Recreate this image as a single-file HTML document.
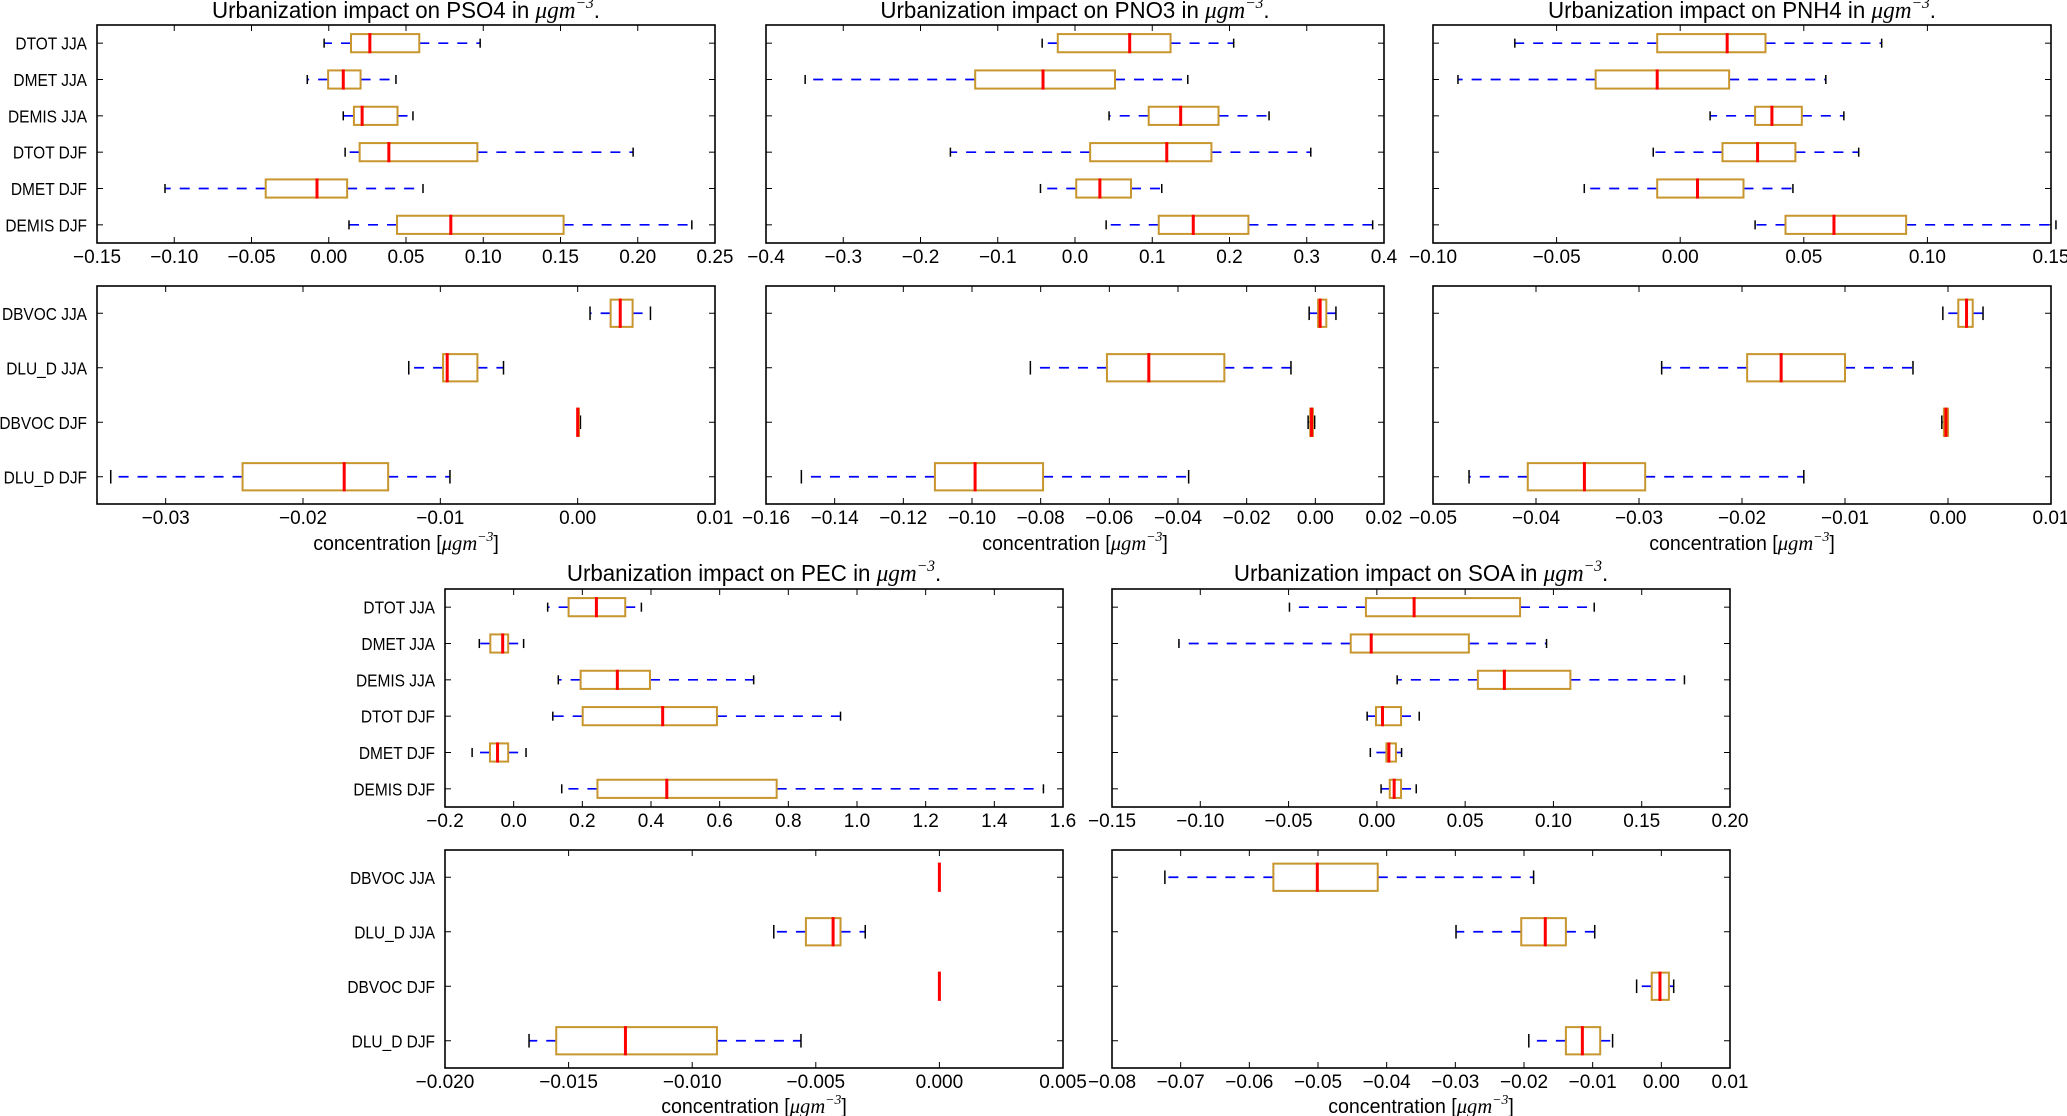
<!DOCTYPE html>
<html><head><meta charset="utf-8">
<style>
html,body{margin:0;padding:0;background:#fff;}
svg{display:block;font-family:"Liberation Sans",sans-serif;}
</style></head>
<body>
<svg id="fig" width="2067" height="1116" viewBox="0 0 2067 1116" xmlns="http://www.w3.org/2000/svg"></svg>
<script>
// ---------- category labels ----------
const topCats = ["DTOT JJA","DMET JJA","DEMIS JJA","DTOT DJF","DMET DJF","DEMIS DJF"];
const botCats = ["DBVOC JJA","DLU_D JJA","DBVOC DJF","DLU_D DJF"];

// ---------- PSO4 ----------
const pso4TopLo  = [-0.003,-0.0139,0.0094,0.0106,-0.106,0.0131];
const pso4TopQ1  = [0.0144,-0.0004,0.0163,0.020,-0.0408,0.0442];
const pso4TopMed = [0.0266,0.0094,0.0216,0.0389,-0.0076,0.079];
const pso4TopQ3  = [0.0586,0.0206,0.0445,0.0962,0.0119,0.152];
const pso4TopHi  = [0.098,0.0435,0.0545,0.197,0.061,0.235];
const pso4TopTicks = [-0.15,-0.10,-0.05,0.00,0.05,0.10,0.15,0.20,0.25];
const pso4TopTickLabels = ["\u22120.15","\u22120.10","\u22120.05","0.00","0.05","0.10","0.15","0.20","0.25"];
const pso4BotLo  = [0.0009,-0.0123,0.0,-0.034];
const pso4BotQ1  = [0.0024,-0.0098,0.0,-0.0244];
const pso4BotMed = [0.0031,-0.0095,0.0,-0.017];
const pso4BotQ3  = [0.0040,-0.0073,0.0001,-0.0138];
const pso4BotHi  = [0.0053,-0.0054,0.0002,-0.0093];
const pso4BotTicks = [-0.03,-0.02,-0.01,0.00,0.01];
const pso4BotTickLabels = ["\u22120.03","\u22120.02","\u22120.01","0.00","0.01"];

// ---------- PNO3 ----------
const pno3TopLo  = [-0.0425,-0.3493,0.0441,-0.1613,-0.0447,0.0403];
const pno3TopQ1  = [-0.0223,-0.1292,0.0954,0.0196,0.0016,0.1084];
const pno3TopMed = [0.0708,-0.0414,0.1368,0.1188,0.0322,0.1531];
const pno3TopQ3  = [0.1237,0.0518,0.1858,0.1766,0.0725,0.2245];
const pno3TopHi  = [0.2054,0.146,0.2512,0.3052,0.1123,0.3853];
const pno3TopTicks = [-0.4,-0.3,-0.2,-0.1,0.0,0.1,0.2,0.3,0.4];
const pno3TopTickLabels = ["\u22120.4","\u22120.3","\u22120.2","\u22120.1","0.0","0.1","0.2","0.3","0.4"];
const pno3BotLo  = [-0.0018,-0.083,-0.0021,-0.1497];
const pno3BotQ1  = [0.0008,-0.0607,-0.0015,-0.1108];
const pno3BotMed = [0.0014,-0.0485,-0.0011,-0.0991];
const pno3BotQ3  = [0.0032,-0.0265,-0.0007,-0.0793];
const pno3BotHi  = [0.006,-0.0071,-0.0002,-0.0369];
const pno3BotTicks = [-0.16,-0.14,-0.12,-0.10,-0.08,-0.06,-0.04,-0.02,0.00,0.02];
const pno3BotTickLabels = ["\u22120.16","\u22120.14","\u22120.12","\u22120.10","\u22120.08","\u22120.06","\u22120.04","\u22120.02","0.00","0.02"];

// ---------- PNH4 ----------
const pnh4TopLo  = [-0.0669,-0.0899,0.0121,-0.0109,-0.0388,0.0303];
const pnh4TopQ1  = [-0.0093,-0.0342,0.0303,0.0171,-0.0093,0.0426];
const pnh4TopMed = [0.019,-0.0093,0.0371,0.0313,0.007,0.0622];
const pnh4TopQ3  = [0.0345,0.0198,0.0492,0.0466,0.0256,0.0914];
const pnh4TopHi  = [0.0815,0.0589,0.0662,0.0722,0.0456,0.152];
const pnh4TopTicks = [-0.10,-0.05,0.00,0.05,0.10,0.15];
const pnh4TopTickLabels = ["\u22120.10","\u22120.05","0.00","0.05","0.10","0.15"];
const pnh4BotLo  = [-0.0005,-0.0278,-0.0006,-0.0465];
const pnh4BotQ1  = [0.001,-0.0195,-0.0004,-0.0408];
const pnh4BotMed = [0.0018,-0.0162,-0.0002,-0.0353];
const pnh4BotQ3  = [0.0024,-0.010,0.0,-0.0294];
const pnh4BotHi  = [0.0034,-0.0034,0.0,-0.014];
const pnh4BotTicks = [-0.05,-0.04,-0.03,-0.02,-0.01,0.00,0.01];
const pnh4BotTickLabels = ["\u22120.05","\u22120.04","\u22120.03","\u22120.02","\u22120.01","0.00","0.01"];

// ---------- PEC ----------
const pecTopLo  = [0.099,-0.10,0.13,0.114,-0.121,0.14];
const pecTopQ1  = [0.16,-0.068,0.195,0.201,-0.069,0.244];
const pecTopMed = [0.241,-0.032,0.302,0.434,-0.047,0.446];
const pecTopQ3  = [0.325,-0.016,0.397,0.592,-0.016,0.766];
const pecTopHi  = [0.372,0.029,0.699,0.952,0.036,1.543];
const pecTopTicks = [-0.2,0.0,0.2,0.4,0.6,0.8,1.0,1.2,1.4,1.6];
const pecTopTickLabels = ["\u22120.2","0.0","0.2","0.4","0.6","0.8","1.0","1.2","1.4","1.6"];
const pecBotLo  = [0.0,-0.0067,0.0,-0.0166];
const pecBotQ1  = [0.0,-0.0054,0.0,-0.0155];
const pecBotMed = [0.0,-0.0043,0.0,-0.0127];
const pecBotQ3  = [0.0,-0.0040,0.0,-0.009];
const pecBotHi  = [0.0,-0.003,0.0,-0.0056];
const pecBotTicks = [-0.020,-0.015,-0.010,-0.005,0.000,0.005];
const pecBotTickLabels = ["\u22120.020","\u22120.015","\u22120.010","\u22120.005","0.000","0.005"];

// ---------- SOA ----------
const soaTopLo  = [-0.0495,-0.1121,0.0115,-0.0055,-0.0037,0.0024];
const soaTopQ1  = [-0.0062,-0.0148,0.0572,-0.0005,0.0054,0.0073];
const soaTopMed = [0.0211,-0.0032,0.0722,0.0032,0.0068,0.0098];
const soaTopQ3  = [0.0811,0.0521,0.1096,0.0137,0.0108,0.0137];
const soaTopHi  = [0.1231,0.0961,0.1742,0.024,0.014,0.0223];
const soaTopTicks = [-0.15,-0.10,-0.05,0.00,0.05,0.10,0.15,0.20];
const soaTopTickLabels = ["\u22120.15","\u22120.10","\u22120.05","0.00","0.05","0.10","0.15","0.20"];
const soaBotLo  = [-0.0723,-0.0299,-0.0036,-0.0193];
const soaBotQ1  = [-0.0565,-0.0204,-0.0014,-0.0139];
const soaBotMed = [-0.0501,-0.0169,-0.0002,-0.0115];
const soaBotQ3  = [-0.0413,-0.0139,0.0011,-0.0089];
const soaBotHi  = [-0.0186,-0.0097,0.0018,-0.0071];
const soaBotTicks = [-0.08,-0.07,-0.06,-0.05,-0.04,-0.03,-0.02,-0.01,0.00,0.01];
const soaBotTickLabels = ["\u22120.08","\u22120.07","\u22120.06","\u22120.05","\u22120.04","\u22120.03","\u22120.02","\u22120.01","0.00","0.01"];

const NS = "http://www.w3.org/2000/svg";
const svg = document.getElementById("fig");
function mk(tag, attrs, parent){
  const e = document.createElementNS(NS, tag);
  for (const k in attrs) e.setAttribute(k, attrs[k]);
  (parent||svg).appendChild(e);
  return e;
}
function txt(x, y, sx, attrs, parent){
  attrs.x = 0; attrs.y = 0;
  attrs.transform = "translate(" + x + " " + y + ") scale(" + sx + " 1)";
  return mk("text", attrs, parent);
}

function drawTitle(species, cx, y){
  const t = txt(cx, y, 0.97, {"text-anchor":"middle", "font-size":23, fill:"#000"});
  
  
  t.appendChild(document.createTextNode("Urbanization impact on " + species + " in "));
  const m = mk("tspan", {"font-family":"Liberation Serif, serif","font-style":"italic","font-size":24}, t);
  m.textContent = "\u03bcgm";
  const s = mk("tspan", {"font-family":"Liberation Serif, serif","font-style":"italic","font-size":16,dy:-10}, t);
  s.textContent = "\u22123";
  const d = mk("tspan", {dy:10}, t);
  d.textContent = ".";
}

function drawXLabel(cx, y, key){
  const t = txt(cx, y, 0.98, {"text-anchor":"middle", "font-size":20, fill:"#000"});
  
  
  t.appendChild(document.createTextNode("concentration ["));
  const m = mk("tspan", {"font-family":"Liberation Serif, serif","font-style":"italic","font-size":21}, t);
  m.textContent = "\u03bcgm";
  const s = mk("tspan", {"font-family":"Liberation Serif, serif","font-style":"italic","font-size":14,dy:-9}, t);
  s.textContent = "\u22123";
  const d = mk("tspan", {dy:9}, t);
  d.textContent = "]";
}

function drawPanel(key, x0, y0, w, h, cats, lo, q1, med, q3, hi, ticks, tickLabels, showCats){
  const g = mk("g", {});
  
  
  const xmin = (key === "pso4-bottom") ? -0.035 : ticks[0];
  const xmax = ticks[ticks.length-1];
  const X = v => x0 + (v - xmin) / (xmax - xmin) * w;
  const n = cats.length;
  const step = h / n;
  const Y = i => y0 + step * (i + 0.5);
  const bh = step * 0.5, ch = step * 0.25;
  const tl = 6;

  ticks.forEach((tv, i) => {
    const tx = X(tv);
    mk("line", {x1:tx, x2:tx, y1:y0+h, y2:y0+h-tl, stroke:"#000","stroke-width":1}, g);
    mk("line", {x1:tx, x2:tx, y1:y0, y2:y0+tl, stroke:"#000","stroke-width":1}, g);
    const lab = txt(tx, y0+h+20, 1.0, {"text-anchor":"middle","font-size":19, fill:"#000"}, g);
    
    
    lab.textContent = tickLabels[i];
  });
  cats.forEach((c, i) => {
    const cy = Y(i);
    mk("line", {x1:x0, x2:x0+tl, y1:cy, y2:cy, stroke:"#000","stroke-width":1}, g);
    mk("line", {x1:x0+w, x2:x0+w-tl, y1:cy, y2:cy, stroke:"#000","stroke-width":1}, g);
    if (showCats){
      const lab = txt(x0-10, cy+6.5, 0.86, {"text-anchor":"end","font-size":18, fill:"#000"}, g);
      
      
      lab.textContent = c;
    }
  });

  cats.forEach((c, i) => {
    const cy = Y(i);
    const bg = mk("g", {}, g);
    
    
    mk("line", {x1:X(q1[i]), x2:X(lo[i]), y1:cy, y2:cy, stroke:"#0000ff","stroke-width":1.7,"stroke-dasharray":"10,9"}, bg);
    mk("line", {x1:X(q3[i]), x2:X(hi[i]), y1:cy, y2:cy, stroke:"#0000ff","stroke-width":1.7,"stroke-dasharray":"10,9"}, bg);
    mk("line", {x1:X(lo[i]), x2:X(lo[i]), y1:cy-ch/2, y2:cy+ch/2, stroke:"#000","stroke-width":1.5}, bg);
    mk("line", {x1:X(hi[i]), x2:X(hi[i]), y1:cy-ch/2, y2:cy+ch/2, stroke:"#000","stroke-width":1.5}, bg);
    if (X(q3[i]) - X(q1[i]) > 0.5)
      mk("rect", {x:X(q1[i]), y:cy-bh/2, width:X(q3[i])-X(q1[i]), height:bh, fill:"none", stroke:"#c8962e","stroke-width":2}, bg);
    mk("line", {x1:X(med[i]), x2:X(med[i]), y1:cy-bh/2-1, y2:cy+bh/2+1, stroke:"#ff0000","stroke-width":3}, bg);
  });

  const fr = mk("rect", {x:x0, y:y0, width:w, height:h, fill:"none", stroke:"#000","stroke-width":1.6}, g);
  
  
}

const W = 618, H = 218;
drawTitle("PSO4", 97+W/2, 18);
drawPanel("pso4-top", 97, 25, W, H, topCats, pso4TopLo, pso4TopQ1, pso4TopMed, pso4TopQ3, pso4TopHi, pso4TopTicks, pso4TopTickLabels, true);
drawPanel("pso4-bottom", 97, 286, W, H, botCats, pso4BotLo, pso4BotQ1, pso4BotMed, pso4BotQ3, pso4BotHi, pso4BotTicks, pso4BotTickLabels, true);
drawXLabel(97+W/2, 550, "pso4");

drawTitle("PNO3", 766+W/2, 18);
drawPanel("pno3-top", 766, 25, W, H, topCats, pno3TopLo, pno3TopQ1, pno3TopMed, pno3TopQ3, pno3TopHi, pno3TopTicks, pno3TopTickLabels, false);
drawPanel("pno3-bottom", 766, 286, W, H, botCats, pno3BotLo, pno3BotQ1, pno3BotMed, pno3BotQ3, pno3BotHi, pno3BotTicks, pno3BotTickLabels, false);
drawXLabel(766+W/2, 550, "pno3");

drawTitle("PNH4", 1433+W/2, 18);
drawPanel("pnh4-top", 1433, 25, W, H, topCats, pnh4TopLo, pnh4TopQ1, pnh4TopMed, pnh4TopQ3, pnh4TopHi, pnh4TopTicks, pnh4TopTickLabels, false);
drawPanel("pnh4-bottom", 1433, 286, W, H, botCats, pnh4BotLo, pnh4BotQ1, pnh4BotMed, pnh4BotQ3, pnh4BotHi, pnh4BotTicks, pnh4BotTickLabels, false);
drawXLabel(1433+W/2, 550, "pnh4");

drawTitle("PEC", 445+W/2, 581);
drawPanel("pec-top", 445, 589, W, H, topCats, pecTopLo, pecTopQ1, pecTopMed, pecTopQ3, pecTopHi, pecTopTicks, pecTopTickLabels, true);
drawPanel("pec-bottom", 445, 850, W, H, botCats, pecBotLo, pecBotQ1, pecBotMed, pecBotQ3, pecBotHi, pecBotTicks, pecBotTickLabels, true);
drawXLabel(445+W/2, 1113, "pec");

drawTitle("SOA", 1112+W/2, 581);
drawPanel("soa-top", 1112, 589, W, H, topCats, soaTopLo, soaTopQ1, soaTopMed, soaTopQ3, soaTopHi, soaTopTicks, soaTopTickLabels, false);
drawPanel("soa-bottom", 1112, 850, W, H, botCats, soaBotLo, soaBotQ1, soaBotMed, soaBotQ3, soaBotHi, soaBotTicks, soaBotTickLabels, false);
drawXLabel(1112+W/2, 1113, "soa");
</script>
</body></html>
